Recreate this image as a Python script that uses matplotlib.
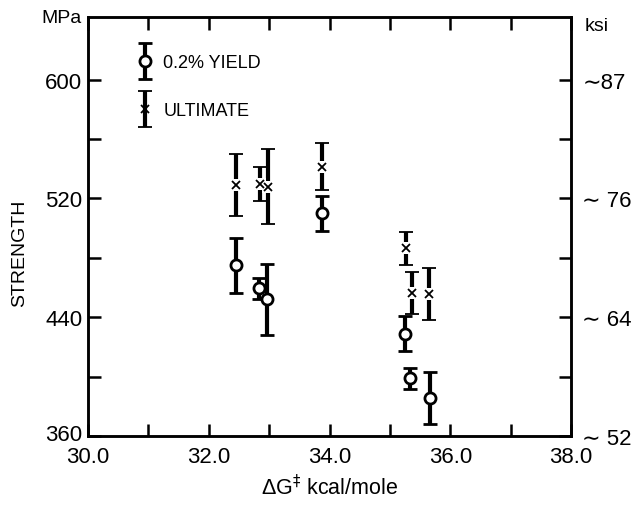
import numpy as np
import matplotlib
matplotlib.use("Agg")
import matplotlib.pyplot as plt
import matplotlib.transforms as mtransforms
from matplotlib.legend_handler import HandlerErrorbar

plt.rcParams['font.family'] = ['Liberation Sans', 'DejaVu Sans']

# activation energy (kcal/mole) for each specimen
dg_yield = [32.45, 32.83, 32.96, 33.87, 35.25, 35.34, 35.66]
dg_ult = [32.45, 32.85, 32.98, 33.87, 35.27, 35.36, 35.65]

# 0.2% yield strength (MPa) and scatter
yield_mpa = [475, 459.5, 452, 510, 429, 399, 386]
yield_err = [18.5, 7, 24, 12, 12, 7, 17.5]

# ultimate strength (MPa) and scatter
ult_mpa = [529, 529.5, 528, 541.5, 486.5, 456.5, 456]
ult_err = [21, 11.5, 25, 16, 11, 14, 17.5]

x_labels = ["30.0", "32.0", "34.0", "36.0", "38.0"]
mpa_ticks = [360, 440, 520, 600]
ksi_labels = ["\u223c 52", "\u223c 64", "\u223c 76", "\u223c87"]

fig = plt.figure(figsize=(6.31, 5.06), dpi=100)
ax = fig.add_axes([0.1395, 0.136, 0.7655, 0.828])

# yield: open circles
hy = ax.errorbar(dg_yield, yield_mpa, yerr=yield_err, fmt='o', color='black',
                 mfc='white', mec='black', ms=8, mew=2, elinewidth=3,
                 capsize=5, capthick=2.8, label='0.2% YIELD', zorder=3)

# ultimate: crosses, bar broken round the cross
hu = ax.errorbar(dg_ult, ult_mpa, yerr=ult_err, fmt='x', color='black',
                 ms=6, mew=1.3, elinewidth=3, capsize=5, capthick=2.8,
                 label='ULTIMATE', zorder=2)
ax.plot(dg_ult, ult_mpa, 's', color='white', ms=8, mew=0, zorder=3)
ax.plot(dg_ult, ult_mpa, 'x', color='black', ms=6, mew=1.3, zorder=4)

ax.set_xlim(30, 38)
ax.set_ylim(360, 642)

ax.set_xticks(np.arange(30, 39, 2))
ax.set_xticklabels(x_labels)
ax.set_xticks(np.arange(31, 38, 2), minor=True)
ax.set_yticks(mpa_ticks)
ax.set_yticks([400, 480, 560], minor=True)

ax.tick_params(which='both', direction='in', length=9, width=1.8,
               labelsize=16, top=True, pad=4)
ax.tick_params(axis='x', which='both', labeltop=False, pad=7)
for s in ax.spines.values():
    s.set_linewidth(1.8)

ax2 = ax.twinx()
ax2.set_ylim(ax.get_ylim())
ax2.set_yticks(mpa_ticks)
ax2.set_yticklabels(ksi_labels)
ax2.set_yticks([400, 480, 560], minor=True)
ax2.tick_params(which='both', direction='in', length=9, width=1.8,
                labelsize=16, pad=8)
for s in ax2.spines.values():
    s.set_linewidth(1.8)

# nudge the bottom MPa label up a few pixels so it clears "30.0"
lbl = ax.get_yticklabels()[0]
lbl.set_transform(lbl.get_transform() +
                  mtransforms.ScaledTranslation(0, 0.04, fig.dpi_scale_trans))

ax.set_xlabel("\u0394G$^{\u2021}$ kcal/mole", fontsize=15.5, labelpad=5)
ax.set_ylabel("STRENGTH", fontsize=14)
ax.yaxis.set_label_coords(-0.125, 0.44)

fig.text(0.066, 0.963, "MPa", fontsize=14, va='center')
fig.text(0.927, 0.948, "ksi", fontsize=14, va='center')

ax.legend([hy, hu], ['0.2% YIELD', 'ULTIMATE'],
          handler_map={type(hy): HandlerErrorbar(yerr_size=1.0)},
          loc='upper left', bbox_to_anchor=(0.07, 0.95), frameon=False,
          fontsize=13, handlelength=0.8, handletextpad=0.6,
          labelspacing=1.7)

fig.savefig("out.png", dpi=100)
